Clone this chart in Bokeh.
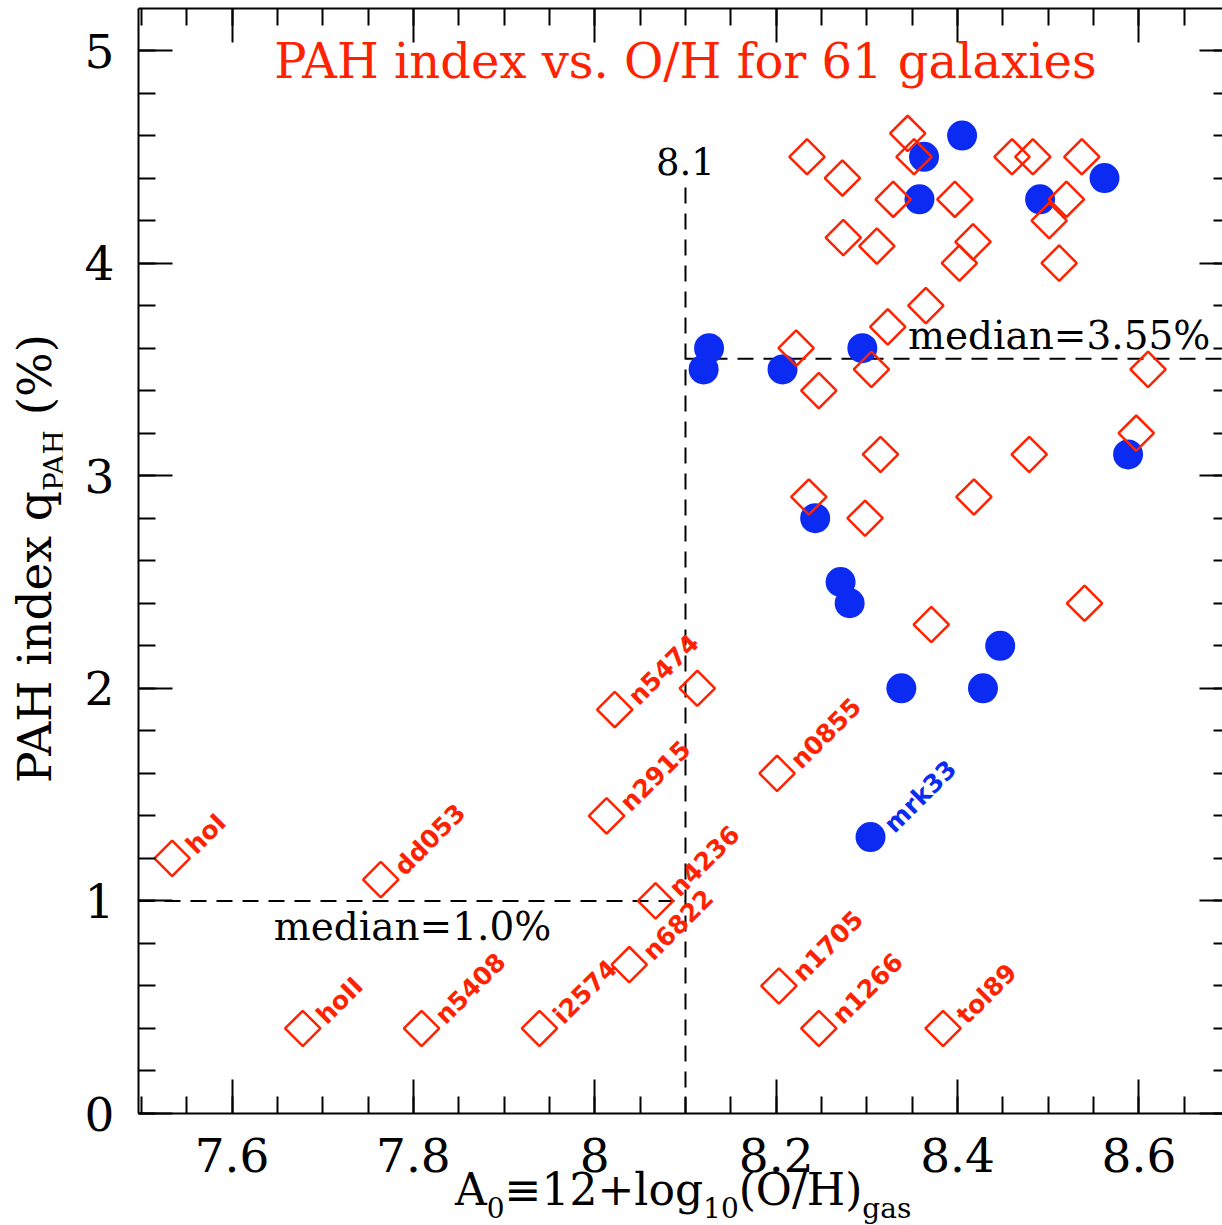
import math
from bokeh.plotting import figure
from bokeh.models import Range1d, FixedTicker, LinearAxis, Label, ColumnDataSource, Div
from bokeh.layouts import row, column
from bokeh.embed import file_html
from bokeh.resources import INLINE
from bokeh.core.properties import value

# ---------------- data ----------------
# open red diamonds
red_x = [7.534, 7.764, 7.678, 7.809, 7.939, 8.038, 8.067, 8.013, 8.022, 8.113,
         8.201, 8.203, 8.247, 8.384,
         8.234, 8.273, 8.274, 8.311, 8.329, 8.345, 8.352, 8.397, 8.365, 8.323,
         8.402, 8.417, 8.460, 8.483, 8.537, 8.520, 8.501, 8.512, 8.222, 8.305,
         8.247, 8.610, 8.597, 8.315, 8.479, 8.236, 8.418, 8.298, 8.371, 8.540]
red_y = [1.20, 1.10, 0.40, 0.40, 0.40, 0.70, 1.00, 1.40, 1.90, 2.00,
         1.60, 0.60, 0.40, 0.40,
         4.50, 4.40, 4.12, 4.08, 4.30, 4.61, 4.50, 4.30, 3.80, 3.70,
         4.00, 4.10, 4.50, 4.50, 4.50, 4.30, 4.20, 4.00, 3.60, 3.50,
         3.40, 3.50, 3.20, 3.10, 3.10, 2.90, 2.90, 2.80, 2.30, 2.40]
red_name = ["hoI", "dd053", "hoII", "n5408", "i2574", "n6822", "n4236", "n2915", "n5474", "",
            "n0855", "n1705", "n1266", "tol89"] + [""] * 30

# filled blue circles
blue_x = [8.126, 8.120, 8.207, 8.295, 8.363, 8.358, 8.405, 8.491, 8.562, 8.588,
          8.243, 8.271, 8.281, 8.338, 8.428, 8.447, 8.304]
blue_y = [3.60, 3.50, 3.50, 3.60, 4.50, 4.30, 4.60, 4.30, 4.40, 3.10,
          2.80, 2.50, 2.40, 2.00, 2.00, 2.20, 1.30]
blue_name = [""] * 16 + ["mrk33"]

x_major = [7.6, 7.8, 8.0, 8.2, 8.4, 8.6]
x_labels = ["7.6", "7.8", "8", "8.2", "8.4", "8.6"]
y_major = [0, 1, 2, 3, 4, 5]
y_labels = ["0", "1", "2", "3", "4", "5"]

median_low = 1.0
median_high = 3.55
oh_split = 8.1

# ---------------- styling ----------------
RED = "#ff2200"
BLUE = "#0b2bf2"
SERIF = "DejaVu Serif"

x_minor = [round(7.5 + 0.05 * i, 2) for i in range(25)]
y_minor = [round(0.2 * i, 1) for i in range(27)]

YDIV_W = 62
PW, PH = 1222 - YDIV_W, 1199
X0, X1 = 7.4969, 8.6921

p = figure(width=PW, height=PH,
           x_range=Range1d(X0, X1), y_range=Range1d(0, 5.1976),
           output_backend="svg", toolbar_location=None,
           min_border_left=138 - YDIV_W, min_border_right=0, min_border_top=8,
           min_border_bottom=PH - 1113)
p.outline_line_color = None
p.grid.visible = False
p.background_fill_color = "white"
p.border_fill_color = "white"


def style_axis(ax, ticks, minor, labels, maj_in, min_in, show_labels, line=True, standoff=0):
    ax.ticker = FixedTicker(ticks=ticks, minor_ticks=minor)
    ax.major_tick_in = maj_in
    ax.major_tick_out = 0
    ax.minor_tick_in = min_in
    ax.minor_tick_out = 0
    ax.major_tick_line_width = 2
    ax.minor_tick_line_width = 2
    ax.major_tick_line_color = "black"
    ax.minor_tick_line_color = "black"
    ax.axis_line_width = 2
    ax.axis_line_color = "black" if line else None
    ax.axis_label = None
    if show_labels:
        ax.major_label_overrides = dict(zip(ticks, labels))
        ax.major_label_text_font = SERIF
        ax.major_label_text_font_size = "47px"
        ax.major_label_text_color = "black"
        ax.major_label_standoff = standoff
    else:
        ax.major_label_text_font_size = "0px"
        ax.major_label_standoff = 0
        ax.major_label_text_color = None


style_axis(p.xaxis[0], x_major, x_minor, x_labels, 34, 17, True, standoff=24)
style_axis(p.yaxis[0], y_major, y_minor, y_labels, 34, 17, True, standoff=24)

top_ax = LinearAxis()
style_axis(top_ax, x_major, x_minor, x_labels, 34, 17, False)
p.add_layout(top_ax, "above")

right_ax = LinearAxis()
style_axis(right_ax, y_major, y_minor, y_labels, 23, 9, False, line=False)
p.add_layout(right_ax, "right")

# ---------------- median / split lines ----------------
p.segment(x0=[X0, oh_split, oh_split], y0=[median_low, median_high, 0],
          x1=[oh_split, X1, oh_split], y1=[median_low, median_high, 4.38],
          line_color="black", line_width=2, line_dash="16 10")

# ---------------- points ----------------
p.scatter(blue_x, blue_y, marker="circle", size=30, fill_color=BLUE, line_color=None)
p.scatter(red_x, red_y, marker="square", angle=math.pi / 4, size=25,
          fill_color=None, line_color=RED, line_width=2.5)

# point labels
rl = [(x, y, n) for x, y, n in zip(red_x, red_y, red_name) if n]
bl = [(x, y, n) for x, y, n in zip(blue_x, blue_y, blue_name) if n]
for items, col in ((rl, RED), (bl, BLUE)):
    src = ColumnDataSource(dict(x=[a[0] for a in items], y=[a[1] for a in items],
                                t=[a[2] for a in items]))
    p.text(x="x", y="y", text="t", source=src, angle=math.pi / 4,
           x_offset=18, y_offset=-9, text_align="left", text_baseline="alphabetic",
           text_font=value("DejaVu Sans"), text_font_style="bold",
           text_font_size="25px", text_color=col)

# ---------------- texts inside the frame ----------------
def lab(x, y, text, size, color="black", align="center", baseline="middle"):
    p.add_layout(Label(x=x, y=y, text=text, text_font=SERIF, text_font_size=size,
                       text_color=color, text_align=align, text_baseline=baseline))

lab(8.1, 4.953, "PAH index vs. O/H for 61 galaxies", "48px", RED)
lab(8.1, 4.478, "8.1", "37px")
lab(7.799, 0.880, "median=1.0%", "39px")
lab(8.512, 3.660, "median=3.55%", "39px")

# ---------------- axis titles (HTML text with subscripts) ----------------
SUB = "position:relative;top:13px;font-size:28px;"
ytitle = Div(width=YDIV_W, height=PH, margin=0, text=(
    "<div style=\"position:relative;left:11px;top:783px;transform:rotate(-90deg);"
    "transform-origin:0 0;white-space:nowrap;font-family:'DejaVu Serif';font-size:47px;"
    "line-height:1;color:black;\">PAH index q"
    f"<span style=\"{SUB}\">PAH</span> (%)</div>"))
xtitle = Div(width=1222, height=24, margin=0, text=(
    "<div style=\"position:relative;left:455px;top:-31px;white-space:nowrap;"
    "font-family:'DejaVu Serif';font-size:44px;line-height:1;color:black;\">A"
    f"<span style=\"{SUB}\">0</span>\u226112+log<span style=\"{SUB}\">10</span>(O/H)"
    f"<span style=\"{SUB}\">gas</span></div>"))

layout = column(row(ytitle, p, spacing=0), xtitle, spacing=0)

open("out.html", "w").write(file_html(layout, INLINE))
